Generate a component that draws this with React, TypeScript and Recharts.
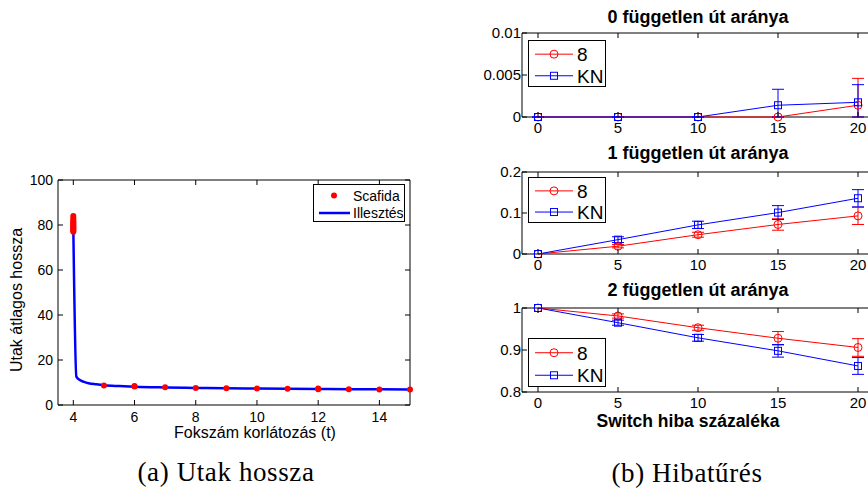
import React from "react";
import {
  ComposedChart,
  LineChart,
  Line,
  Scatter,
  XAxis,
  YAxis,
  ErrorBar,
  ReferenceArea,
} from "recharts";

// ---------- Left chart data ----------
const fitX = [4.0, 4.1, 4.2, 4.35, 4.5, 4.75, 5, 5.5, 6, 7, 8, 9, 10, 11, 12, 13, 14, 15];
const fitY = [79, 12.6, 11.2, 10.3, 9.7, 9.2, 8.8, 8.4, 8.1, 7.8, 7.6, 7.4, 7.3, 7.2, 7.1, 7.0, 6.95, 6.9];
const scafidaX = [4, 4, 4, 4, 4, 4, 4, 4, 4, 4, 4, 4, 4, 5, 6, 6, 7, 8, 9, 10, 11, 12, 12, 13, 14, 15];
const scafidaY = [77, 77.5, 78, 78.5, 79, 79.5, 80, 80.5, 81, 81.5, 82, 83, 84, 8.7, 8.2, 8.5, 7.9, 7.6, 7.4, 7.3, 7.2, 7.0, 7.3, 7.0, 6.9, 6.9];
const leftXTicks = [4, 6, 8, 10, 12, 14];
const leftYTicks = [0, 20, 40, 60, 80, 100];

// ---------- Right chart data ----------
const switchX = [0, 5, 10, 15, 20];
const p0_8 = [0, 0, 0, 0, 0.0014];
const p0_8err: [number, number][] = [[0, 0], [0, 0], [0, 0], [0, 0], [0.0014, 0.0032]];
const p0_KN = [0, 0, 0, 0.0014, 0.00175];
const p0_KNerr: [number, number][] = [[0, 0], [0, 0], [0, 0], [0.0014, 0.0019], [0.00175, 0.0021]];
const p1_8 = [0, 0.019, 0.047, 0.072, 0.093];
const p1_8err = [0, 0.004, 0.006, 0.014, 0.021];
const p1_KN = [0, 0.035, 0.071, 0.101, 0.136];
const p1_KNerr = [0, 0.007, 0.009, 0.017, 0.021];
const p2_8 = [1, 0.981, 0.953, 0.928, 0.906];
const p2_8err = [0, 0.005, 0.006, 0.016, 0.021];
const p2_KN = [1, 0.965, 0.929, 0.898, 0.862];
const p2_KNerr = [0, 0.006, 0.008, 0.015, 0.02];
const rightXTicks = [0, 5, 10, 15, 20];
const p0YTicks = [0, 0.005, 0.01];
const p1YTicks = [0, 0.1, 0.2];
const p2YTicks = [0.8, 0.9, 1];
const panelTitles = ["0 független út aránya", "1 független út aránya", "2 független út aránya"];
const seriesNames = ["8", "KN"];

const SANS = '"Liberation Sans", Arial, Helvetica, sans-serif';
const SERIF = '"Liberation Serif", "Times New Roman", serif';
const RED = "#ff0000";
const BLUE = "#0000ff";

const fitData = fitX.map((x, i) => ({ x, y: fitY[i] }));
const scafidaData = scafidaX.map((x, i) => ({ x, y: scafidaY[i] }));

const buildRows = (a: number[], ae: any[], b: number[], be: any[]) =>
  switchX.map((x, i) => ({ x, v8: a[i], e8: ae[i], vKN: b[i], eKN: be[i] }));

const RM = 10; // right chart top margin
const panels = [
  { rows: buildRows(p0_8, p0_8err, p0_KN, p0_KNerr), yTicks: p0YTicks, domain: [0, 0.01], plotTop: 33, plotH: 84, legendTop: 40, legendH: 47 },
  { rows: buildRows(p1_8, p1_8err, p1_KN, p1_KNerr), yTicks: p1YTicks, domain: [0, 0.2], plotTop: 172, plotH: 82, legendTop: 177, legendH: 46 },
  { rows: buildRows(p2_8, p2_8err, p2_KN, p2_KNerr), yTicks: p2YTicks, domain: [0.8, 1], plotTop: 308, plotH: 84, legendTop: 338, legendH: 49 },
];
const titleY = [17, 153, 290];

const makeXTick = (m: number, plotH: number, fontSize: number) => (props: any) => {
  const { x, y, payload } = props;
  const ay = y - m;
  return (
    <g>
      <line x1={x} x2={x} y1={ay} y2={ay - 5} stroke="#000" strokeWidth={1} />
      <line x1={x} x2={x} y1={ay - plotH} y2={ay - plotH + 5} stroke="#000" strokeWidth={1} />
      <text x={x} y={y} dy="0.75em" textAnchor="middle" fontSize={fontSize} fontFamily={SANS} fill="#000">
        {payload.value}
      </text>
    </g>
  );
};

const makeYTick = (m: number, plotW: number, fontSize: number) => (props: any) => {
  const { x, y, payload } = props;
  const ax = x + m;
  return (
    <g>
      <line x1={ax} x2={ax + 5} y1={y} y2={y} stroke="#000" strokeWidth={1} />
      <line x1={ax + plotW} x2={ax + plotW - 5} y1={y} y2={y} stroke="#000" strokeWidth={1} />
      <text x={x} y={y} dy="0.36em" textAnchor="end" fontSize={fontSize} fontFamily={SANS} fill="#000">
        {payload.value}
      </text>
    </g>
  );
};

const CircleDot = (props: any) => {
  const { cx, cy, index } = props;
  if (cx == null || cy == null) return <g key={index} />;
  return <circle key={index} cx={cx} cy={cy} r={4} fill="none" stroke={RED} strokeWidth={1} />;
};
const SquareDot = (props: any) => {
  const { cx, cy, index } = props;
  if (cx == null || cy == null) return <g key={index} />;
  return <rect key={index} x={cx - 3.5} y={cy - 3.5} width={7} height={7} fill="none" stroke={BLUE} strokeWidth={1} />;
};
const RedDot = (props: any) => {
  const { cx, cy } = props;
  return <circle cx={cx} cy={cy} r={3} fill={RED} stroke="none" />;
};

const RightLegend = ({ top, height }: { top: number; height: number }) => {
  const r1 = height * 0.28;
  const r2 = height * 0.74;
  return (
    <div
      style={{
        position: "absolute",
        left: 528,
        top,
        width: 78,
        height,
        boxSizing: "border-box",
        border: "1px solid #000",
        background: "#fff",
      }}
    >
      <svg width={76} height={height - 2} style={{ position: "absolute", left: 0, top: 0 }}>
        <line x1={6} x2={44} y1={r1} y2={r1} stroke={RED} strokeWidth={1} />
        <circle cx={25} cy={r1} r={4} fill="none" stroke={RED} />
        <line x1={6} x2={44} y1={r2} y2={r2} stroke={BLUE} strokeWidth={1} />
        <rect x={21.5} y={r2 - 3.5} width={7} height={7} fill="none" stroke={BLUE} />
        <text x={48} y={r1} dy="0.36em" fontSize={19} fontFamily={SANS} fill="#000">{seriesNames[0]}</text>
        <text x={48} y={r2} dy="0.36em" fontSize={19} fontFamily={SANS} fill="#000">{seriesNames[1]}</text>
      </svg>
    </div>
  );
};

export default function App() {
  return (
    <div
      style={{
        position: "fixed",
        left: 0,
        top: 0,
        width: 868,
        height: 491,
        overflow: "hidden",
        background: "#fff",
        fontFamily: SANS,
      }}
    >
      {/* ---------- Left chart ---------- */}
      <div style={{ position: "absolute", left: 0, top: 170 }}>
        <ComposedChart width={420} height={260} margin={{ top: 10, right: 10, bottom: 0, left: 0 }}>
          <XAxis
            type="number"
            dataKey="x"
            domain={[3.5, 15]}
            ticks={leftXTicks}
            interval={0}
            height={25}
            tickSize={0}
            tickMargin={6}
            axisLine={false}
            tickLine={false}
            tick={makeXTick(6, 225, 14)}
            allowDuplicatedCategory={false}
          />
          <YAxis
            type="number"
            domain={[0, 100]}
            ticks={leftYTicks}
            interval={0}
            width={58}
            tickSize={0}
            tickMargin={5}
            axisLine={false}
            tickLine={false}
            tick={makeYTick(5, 352, 14)}
          />
          <ReferenceArea x1={3.5} x2={15} y1={0} y2={100} fill="none" stroke="#000" strokeWidth={1} ifOverflow="visible" />
          <Scatter data={scafidaData} dataKey="y" fill={RED} shape={RedDot} isAnimationActive={false} />
          <Line
            data={fitData}
            dataKey="y"
            type="monotone"
            stroke={BLUE}
            strokeWidth={2.5}
            dot={false}
            activeDot={false}
            isAnimationActive={false}
          />
        </ComposedChart>
      </div>

      {/* Left legend */}
      <div
        style={{
          position: "absolute",
          left: 313,
          top: 184,
          width: 92,
          height: 38,
          boxSizing: "border-box",
          border: "1px solid #000",
          background: "#fff",
        }}
      >
        <svg width={90} height={36} style={{ position: "absolute", left: 0, top: 0 }}>
          <circle cx={20} cy={10.5} r={3} fill={RED} />
          <line x1={5} x2={36} y1={28} y2={28} stroke={BLUE} strokeWidth={2.5} />
          <text x={39} y={10.5} dy="0.36em" fontSize={14} fontFamily={SANS} fill="#000">Scafida</text>
          <text x={39} y={28} dy="0.36em" fontSize={14} fontFamily={SANS} fill="#000">Illesztés</text>
        </svg>
      </div>

      {/* Left axis labels */}
      <div
        style={{
          position: "absolute",
          left: 255,
          top: 433,
          transform: "translate(-50%, -50%)",
          fontSize: 16,
          whiteSpace: "nowrap",
        }}
      >
        Fokszám korlátozás (t)
      </div>
      <div
        style={{
          position: "absolute",
          left: 17,
          top: 300,
          transform: "translate(-50%, -50%) rotate(-90deg)",
          fontSize: 16,
          whiteSpace: "nowrap",
        }}
      >
        Utak átlagos hossza
      </div>

      {/* ---------- Right charts ---------- */}
      {panels.map((p, k) => (
        <div key={k} style={{ position: "absolute", left: 480, top: p.plotTop - RM }}>
          <LineChart width={400} height={RM + p.plotH + 21} data={p.rows} margin={{ top: RM, right: 6, bottom: 0, left: 0 }}>
            <XAxis
              type="number"
              dataKey="x"
              domain={[-1, 21]}
              ticks={rightXTicks}
              interval={0}
              height={21}
              tickSize={0}
              tickMargin={5}
              axisLine={false}
              tickLine={false}
              tick={makeXTick(5, p.plotH, 15)}
            />
            <YAxis
              type="number"
              domain={p.domain}
              ticks={p.yTicks}
              interval={0}
              width={42}
              tickSize={0}
              tickMargin={1}
              axisLine={false}
              tickLine={false}
              tick={makeYTick(1, 352, 15)}
            />
            <ReferenceArea x1={-1} x2={21} y1={p.domain[0]} y2={p.domain[1]} fill="none" stroke="#000" strokeWidth={1} ifOverflow="visible" />
            <Line
              dataKey="v8"
              type="linear"
              stroke={RED}
              strokeWidth={1}
              dot={CircleDot}
              activeDot={false}
              isAnimationActive={false}
            >
              <ErrorBar dataKey="e8" width={6} stroke={RED} strokeWidth={1} direction="y" isAnimationActive={false} />
            </Line>
            <Line
              dataKey="vKN"
              type="linear"
              stroke={BLUE}
              strokeWidth={1}
              dot={SquareDot}
              activeDot={false}
              isAnimationActive={false}
            >
              <ErrorBar dataKey="eKN" width={6} stroke={BLUE} strokeWidth={1} direction="y" isAnimationActive={false} />
            </Line>
          </LineChart>
        </div>
      ))}

      {panels.map((p, k) => (
        <RightLegend key={"lg" + k} top={p.legendTop} height={p.legendH} />
      ))}

      {panelTitles.map((t, k) => (
        <div
          key={"t" + k}
          style={{
            position: "absolute",
            left: 698,
            top: titleY[k],
            transform: "translate(-50%, -50%)",
            fontSize: 18,
            fontWeight: "bold",
            whiteSpace: "nowrap",
          }}
        >
          {t}
        </div>
      ))}

      <div
        style={{
          position: "absolute",
          left: 688,
          top: 421,
          transform: "translate(-50%, -50%)",
          fontSize: 17.5,
          fontWeight: "bold",
          whiteSpace: "nowrap",
        }}
      >
        Switch hiba százaléka
      </div>

      {/* Captions */}
      <div
        style={{
          position: "absolute",
          left: 226,
          top: 472,
          transform: "translate(-50%, -50%)",
          fontSize: 27,
          fontFamily: SERIF,
          letterSpacing: 0.6,
          whiteSpace: "nowrap",
        }}
      >
        (a) Utak hossza
      </div>
      <div
        style={{
          position: "absolute",
          left: 687,
          top: 473,
          transform: "translate(-50%, -50%)",
          fontSize: 27,
          fontFamily: SERIF,
          letterSpacing: 0.6,
          whiteSpace: "nowrap",
        }}
      >
        (b) Hibatűrés
      </div>
    </div>
  );
}
